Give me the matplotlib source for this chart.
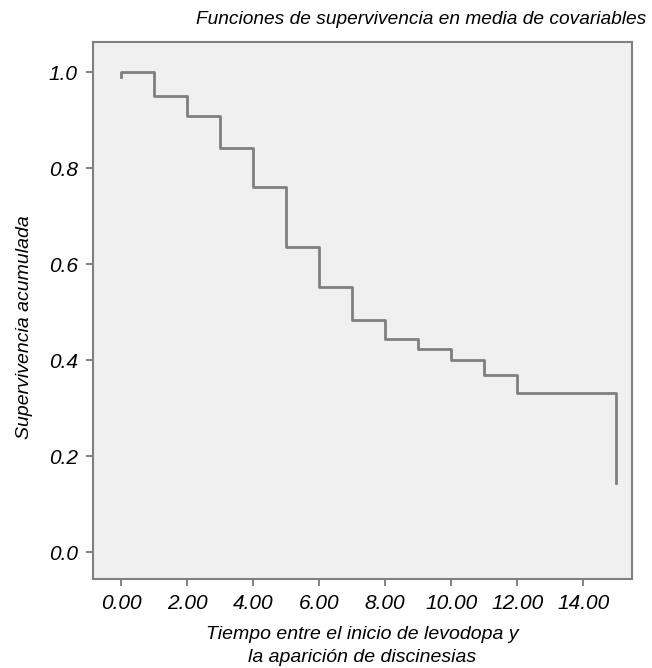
import matplotlib.pyplot as plt

# survival steps
tiempo = [0, 0, 1, 2, 3, 4, 5, 6, 7, 8, 9, 10, 11, 12, 15, 15]
superv = [0.99, 1.0, 0.95, 0.908, 0.842, 0.760, 0.635, 0.552, 0.483,
          0.444, 0.424, 0.400, 0.369, 0.331, 0.331, 0.144]
xticks = [0, 2, 4, 6, 8, 10, 12, 14]
yticks = [0.0, 0.2, 0.4, 0.6, 0.8, 1.0]

plt.rcParams['font.family'] = ['Liberation Sans', 'DejaVu Sans']
plt.rcParams['font.style'] = 'italic'

fig = plt.figure(figsize=(6.52, 6.68), dpi=100)
ax = fig.add_axes([93/652, 1 - 579/668, (632-93)/652, (579-42)/668])
ax.set_facecolor('#f0f0f0')

ax.step(tiempo, superv, where='post', color='#7f7f7f', lw=2)

ax.set_xlim(-0.85, 15.48)
ax.set_ylim(-0.056, 1.0625)
ax.set_xticks(xticks)
ax.set_xticklabels(['%.2f' % v for v in xticks])
ax.set_yticks(yticks)
ax.set_yticklabels(['%.1f' % v for v in yticks])
ax.tick_params(labelsize=15, color='#777777', length=5, width=1.3, pad=6)

for s in ax.spines.values():
    s.set_color('#808080')
    s.set_linewidth(1.5)

ax.set_xlabel('Tiempo entre el inicio de levodopa y\nla aparición de discinesias',
              fontsize=14, linespacing=1.45, labelpad=9)
ax.set_ylabel('Supervivencia acumulada', fontsize=14)
ax.yaxis.set_label_coords(-0.111, 0.469)
fig.text(646/652, 1 - 20/668, 'Funciones de supervivencia en media de covariables',
         ha='right', va='center', fontsize=13.8)

fig.savefig('out.png')
